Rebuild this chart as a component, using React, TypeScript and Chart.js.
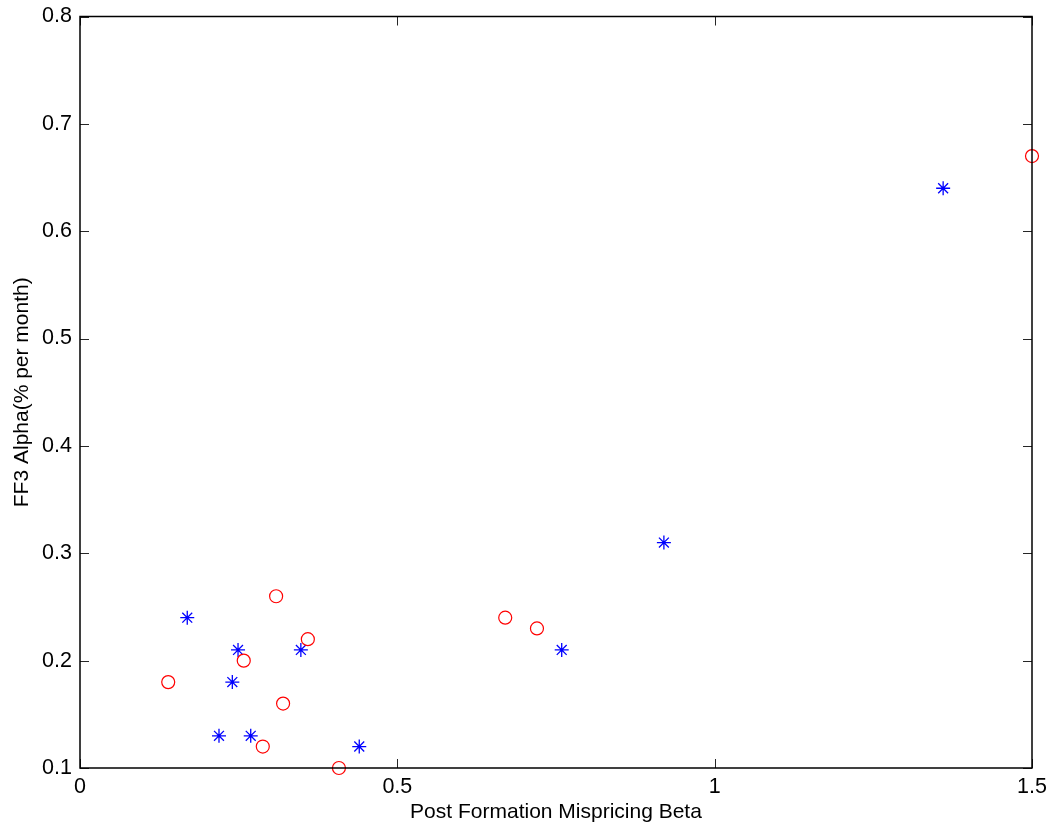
import React, { useEffect, useRef } from "react";
import { Chart, registerables } from "chart.js";

Chart.register(...registerables);

const circleX = [0.139, 0.309, 0.359, 0.258, 0.32, 0.288, 0.408, 0.67, 0.72, 1.5];
const circleY = [0.18, 0.26, 0.22, 0.2, 0.16, 0.12, 0.1, 0.24, 0.23, 0.67];
const starX = [0.169, 0.249, 0.24, 0.219, 0.269, 0.348, 0.44, 0.759, 0.92, 1.36];
const starY = [0.24, 0.21, 0.18, 0.13, 0.13, 0.21, 0.12, 0.21, 0.31, 0.64];
const xTicks = [0, 0.5, 1, 1.5];
const yTicks = [0.1, 0.2, 0.3, 0.4, 0.5, 0.6, 0.7, 0.8];
const xTitle = "Post Formation Mispricing Beta";
const yTitle = "FF3 Alpha(% per month)";

const FONT = "'Liberation Sans', Arial, Helvetica, sans-serif";
const TICK_SIZE = 21.5;
const TITLE_SIZE = 21;

const boxPlugin = {
  id: "matlabBox",
  afterDatasetsDraw(chart: any) {
    const { ctx, chartArea, scales } = chart;
    const { left, right, top, bottom } = chartArea;
    ctx.save();
    ctx.strokeStyle = "#262626";
    ctx.lineWidth = 1;
    const tl = 9;
    ctx.beginPath();
    for (const v of xTicks) {
      const px = Math.round(scales.x.getPixelForValue(v)) + 0.5;
      ctx.moveTo(px, bottom);
      ctx.lineTo(px, bottom - tl);
      ctx.moveTo(px, top);
      ctx.lineTo(px, top + tl);
    }
    for (const v of yTicks) {
      const py = Math.round(scales.y.getPixelForValue(v)) + 0.5;
      ctx.moveTo(left, py);
      ctx.lineTo(left + tl, py);
      ctx.moveTo(right, py);
      ctx.lineTo(right - tl, py);
    }
    ctx.stroke();
    ctx.strokeStyle = "#000000";
    ctx.lineWidth = 1.5;
    ctx.strokeRect(left, top, right - left, bottom - top);
    ctx.restore();
  },
};

export default function App() {
  const ref = useRef<HTMLCanvasElement | null>(null);
  useEffect(() => {
    if (!ref.current) return;
    const chart = new Chart(ref.current, {
      type: "scatter",
      data: {
        datasets: [
          {
            label: "circles",
            data: circleX.map((x, i) => ({ x, y: circleY[i] })),
            pointStyle: "circle",
            pointRadius: 6.5,
            borderColor: "#ff0000",
            backgroundColor: "rgba(0,0,0,0)",
            borderWidth: 1.2,
            clip: false,
          },
          {
            label: "stars",
            data: starX.map((x, i) => ({ x, y: starY[i] })),
            pointStyle: "star",
            pointRadius: 7,
            borderColor: "#0000ff",
            backgroundColor: "#0000ff",
            borderWidth: 1.3,
            clip: false,
          },
        ],
      },
      options: {
        animation: false,
        responsive: false,
        maintainAspectRatio: false,
        layout: { padding: { top: 16.5, right: 22, left: 0, bottom: 0 } },
        plugins: { legend: { display: false }, tooltip: { enabled: false } },
        scales: {
          x: {
            type: "linear",
            min: 0,
            max: 1.5,
            afterBuildTicks: (s: any) => {
              s.ticks = xTicks.map((v) => ({ value: v }));
            },
            ticks: {
              callback: (v: any) => String(v),
              color: "#000",
              font: { family: FONT, size: TICK_SIZE },
              padding: 6,
              maxRotation: 0,
            },
            grid: { display: false, drawTicks: false },
            border: { display: false },
            title: {
              display: true,
              text: xTitle,
              color: "#000",
              font: { family: FONT, size: TITLE_SIZE },
              padding: { top: 0, bottom: 5.4 },
            },
            afterFit: (s: any) => {
              s.height = 62;
            },
          },
          y: {
            type: "linear",
            min: 0.1,
            max: 0.8,
            afterBuildTicks: (s: any) => {
              s.ticks = yTicks.map((v) => ({ value: v }));
            },
            ticks: {
              callback: (v: any) => Number(v).toFixed(1),
              color: "#000",
              font: { family: FONT, size: TICK_SIZE },
              padding: 8,
            },
            grid: { display: false, drawTicks: false },
            border: { display: false },
            title: {
              display: true,
              text: yTitle,
              color: "#000",
              font: { family: FONT, size: TITLE_SIZE },
              padding: { top: 9.4, bottom: 0 },
            },
            afterFit: (s: any) => {
              s.width = 80;
              s.paddingTop = 0;
              s.paddingBottom = 0;
            },
          },
        },
      },
      plugins: [boxPlugin],
    });
    return () => chart.destroy();
  }, []);
  return (
    <div style={{ position: "fixed", left: 0, top: 0, width: 1054, height: 830, background: "#fff" }}>
      <canvas ref={ref} width={1054} height={830} style={{ width: 1054, height: 830 }} />
    </div>
  );
}
